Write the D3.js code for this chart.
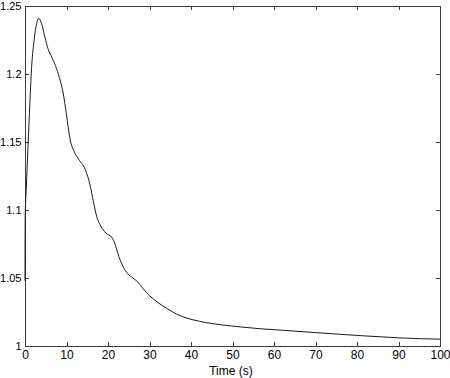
<!DOCTYPE html>
<html>
<head>
<meta charset="utf-8">
<script src="https://cdn.jsdelivr.net/npm/d3@7"></script>
<style>
  html, body { margin: 0; padding: 0; background: #fff; }
  svg { display: block; }
  text { font-family: "Liberation Sans", Arial, Helvetica, sans-serif; font-size: 12px; fill: #000; }
</style>
</head>
<body>
<div id="chart"></div>
<script>
const timeValues = [0, 0.05, 0.3, 0.7, 1.2, 1.5, 2.2, 2.8, 3.3, 4.0, 4.8, 5.6, 6.5, 7.6, 8.5, 9.2, 10, 10.8, 12, 13, 14.5, 15.7, 16.5, 17.3, 18.3, 19.5, 20.9, 21.8, 22.6, 23.7, 24.8, 26, 27.2, 28.5, 30, 32, 34, 36.5, 39, 42, 45, 48.6, 52, 56.6, 62, 68, 74, 82, 90, 100];
const responseValues = [1.048, 1.095, 1.115, 1.145, 1.18, 1.20, 1.225, 1.237, 1.241, 1.237, 1.227, 1.218, 1.212, 1.204, 1.195, 1.186, 1.170, 1.153, 1.142, 1.137, 1.130, 1.118, 1.106, 1.095, 1.088, 1.083, 1.080, 1.074, 1.066, 1.058, 1.053, 1.050, 1.047, 1.042, 1.037, 1.032, 1.028, 1.0235, 1.0205, 1.0182, 1.0165, 1.0151, 1.014, 1.0127, 1.0116, 1.0103, 1.009, 1.0074, 1.006, 1.005];
const xTicks = [0, 10, 20, 30, 40, 50, 60, 70, 80, 90, 100];
const yTicks = [1, 1.05, 1.1, 1.15, 1.2, 1.25];
const xLabel = "Time (s)";

(function () {
const W = 450, H = 378;
const mLeft = 25, mRight = 440, mTop = 6, mBottom = 346;

const svg = d3.select("#chart").append("svg").attr("width", W).attr("height", H);

const x = d3.scaleLinear().domain([0, 100]).range([mLeft, mRight]);
const y = d3.scaleLinear().domain([1, 1.25]).range([mBottom, mTop]);

const fmtY = d => String(+d.toFixed(2));
const tickLen = 4;
const axisColor = "#3a3a3a";

svg.append("rect")
  .attr("x", mLeft).attr("y", mTop)
  .attr("width", mRight - mLeft).attr("height", mBottom - mTop)
  .attr("fill", "none").attr("stroke", axisColor).attr("stroke-width", 1)
  .attr("shape-rendering", "crispEdges");

const xAxisB = d3.axisBottom(x).tickValues(xTicks).tickSizeInner(-tickLen).tickSizeOuter(0).tickPadding(8).tickFormat(d3.format("d"));
const gxb = svg.append("g").attr("transform", `translate(0,${mBottom})`).call(xAxisB);
const xAxisT = d3.axisTop(x).tickValues(xTicks).tickSizeInner(-tickLen).tickSizeOuter(0).tickFormat("");
const gxt = svg.append("g").attr("transform", `translate(0,${mTop})`).call(xAxisT);
const yAxisL = d3.axisLeft(y).tickValues(yTicks).tickSizeInner(-tickLen).tickSizeOuter(0).tickPadding(8).tickFormat(fmtY);
const gyl = svg.append("g").attr("transform", `translate(${mLeft},0)`).call(yAxisL);
const yAxisR = d3.axisRight(y).tickValues(yTicks).tickSizeInner(-tickLen).tickSizeOuter(0).tickFormat("");
const gyr = svg.append("g").attr("transform", `translate(${mRight},0)`).call(yAxisR);

[gxb, gxt, gyl, gyr].forEach(g => {
  g.select(".domain").remove();
  g.selectAll(".tick line").attr("stroke", axisColor).attr("shape-rendering", "crispEdges");
  g.selectAll("text").attr("font-family", null).attr("font-size", null).style("font-size", "12px").attr("fill", "#000");
});
gxb.selectAll(".tick text").attr("dy", null).attr("y", 12.5);
gyl.selectAll(".tick text").style("font-size", "11px").attr("x", -3.5).attr("dy", "0.3em");

const pts = timeValues.map((t, i) => [t, responseValues[i]]);
const line = d3.line().x(d => x(d[0])).y(d => y(d[1])).curve(d3.curveMonotoneX);
svg.append("path").datum(pts)
  .attr("d", line)
  .attr("fill", "none").attr("stroke", "#1a1a1a").attr("stroke-width", 1);

svg.append("text").attr("x", 231).attr("y", 375).attr("text-anchor", "middle").text(xLabel);
})();
</script>
</body>
</html>
